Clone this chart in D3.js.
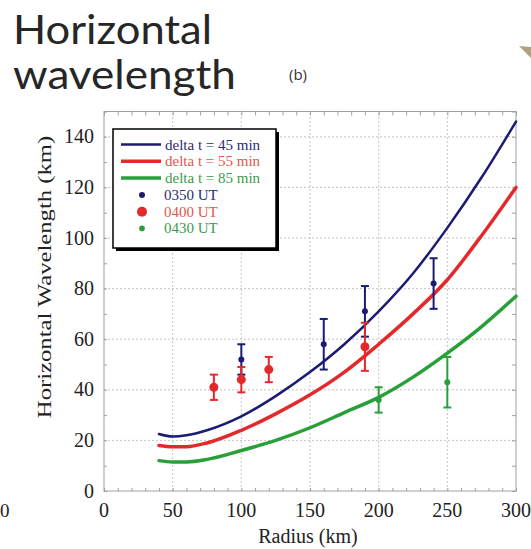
<!doctype html>
<html>
<head>
<meta charset="utf-8">
<script src="https://cdn.jsdelivr.net/npm/d3@7"></script>
<style>
	body { margin: 0; background: #fff; }
	svg text { font-family: "Liberation Serif", "Times New Roman", serif; }
</style>
</head>
<body>
<script>
// model curves, radius (km) vs horizontal wavelength (km)
var radius = [40, 50, 60, 75, 100, 125, 150, 175, 200, 225, 250, 275, 300]
var dt45 = [22.5, 21.5, 22, 24, 29.5, 37.5, 47, 58, 71, 86, 104, 124, 146]
var dt55 = [18, 17.5, 17.5, 19, 24, 30.5, 38, 47, 58, 70, 83.5, 101, 120]
var dt85 = [12, 11.5, 11.5, 12.5, 16, 20, 25, 31, 37, 45, 54.5, 65, 77]

// observations: radius, wavelength, error
var obsR0350 = [100, 160, 190, 240]
var obsV0350 = [52, 58, 71, 82]
var obsE0350 = [6, 10, 10, 10]
var obsR0400 = [80, 100, 120, 190]
var obsV0400 = [41, 44, 48, 57]
var obsE0400 = [5, 5, 5, 9.5]
var obsR0430 = [200, 250]
var obsV0430 = [36, 43]
var obsE0430 = [5, 10]

var xTicks = [0, 50, 100, 150, 200, 250, 300]
var yTicks = [0, 20, 40, 60, 80, 100, 120, 140]
var curveNames = ["delta t = 45 min", "delta t = 55 min", "delta t = 85 min"]
var obsNames = ["0350 UT", "0400 UT", "0430 UT"]

var width = 531
var height = 549
var blue = "#1b1b74", red = "#e4292b", green = "#27a03a"

var svg = d3.select("body").append("svg")
	.attr("width", width)
	.attr("height", height)

var x = d3.scaleLinear().domain([0, 300]).range([104, 516])
var y = d3.scaleLinear().domain([0, 150]).range([491, 111.5])

// slide title
svg.append("text").attr("x", 13).attr("y", 44)
	.style("font-family", "Lato, 'Open Sans', sans-serif")
	.attr("font-size", 40).attr("fill", "#262626")
	.attr("textLength", 199).attr("lengthAdjust", "spacingAndGlyphs")
	.text("Horizontal")
svg.append("text").attr("x", 13).attr("y", 89)
	.style("font-family", "Lato, 'Open Sans', sans-serif")
	.attr("font-size", 40).attr("fill", "#262626")
	.attr("textLength", 223).attr("lengthAdjust", "spacingAndGlyphs")
	.text("wavelength")
svg.append("text").attr("x", 298).attr("y", 80)
	.attr("text-anchor", "middle")
	.style("font-family", "'Open Sans', sans-serif")
	.attr("font-size", 15).attr("fill", "#333")
	.text("(b)")
// bit of decoration at top right
svg.append("polygon")
	.attr("points", "519,46 531,47 531,58")
	.attr("fill", "#ada383")
// stray zero from neighbouring panel
svg.append("text").attr("x", 0).attr("y", 517)
	.attr("font-size", 19).attr("fill", "#222").text("0")

// grid
var grid = svg.append("g")
grid.selectAll(".gx").data(xTicks.slice(1, -1)).enter().append("line")
	.attr("x1", function(d) { return x(d) }).attr("x2", function(d) { return x(d) })
	.attr("y1", y(0)).attr("y2", y(150))
	.attr("stroke", "#c4c4c4").attr("stroke-dasharray", "2,2")
grid.selectAll(".gy").data(yTicks.slice(1)).enter().append("line")
	.attr("x1", x(0)).attr("x2", x(300))
	.attr("y1", function(d) { return y(d) }).attr("y2", function(d) { return y(d) })
	.attr("stroke", "#c4c4c4").attr("stroke-dasharray", "2,2")

// frame with inward ticks on all sides
svg.append("rect")
	.attr("x", x(0)).attr("y", y(150))
	.attr("width", x(300) - x(0)).attr("height", y(0) - y(150))
	.attr("fill", "none").attr("stroke", "#a0a0a0")
var minorX = d3.range(0, 301, 10), minorY = d3.range(0, 151, 10)
svg.append("g").attr("transform", "translate(0," + y(150) + ")")
	.call(d3.axisTop(x).tickValues(minorX).tickSize(-4).tickFormat(""))
svg.append("g").attr("transform", "translate(" + x(300) + ",0)")
	.call(d3.axisRight(y).tickValues(minorY).tickSize(-4).tickFormat(""))
svg.append("g").attr("transform", "translate(0," + y(0) + ")")
	.call(d3.axisBottom(x).tickValues(minorX).tickSize(-3).tickFormat(""))
svg.append("g").attr("transform", "translate(" + x(0) + ",0)")
	.call(d3.axisLeft(y).tickValues(minorY).tickSize(-3).tickFormat(""))
svg.selectAll(".domain").remove()
svg.selectAll(".tick line").attr("stroke", "#a0a0a0")

// tick labels
svg.selectAll(".xl").data(xTicks).enter().append("text")
	.attr("x", function(d) { return x(d) }).attr("y", 517)
	.attr("text-anchor", "middle").attr("font-size", 20).attr("fill", "#222")
	.text(function(d) { return d })
svg.selectAll(".yl").data(yTicks).enter().append("text")
	.attr("x", 94).attr("y", function(d) { return y(d) + 6.5 })
	.attr("text-anchor", "end").attr("font-size", 20).attr("fill", "#222")
	.text(function(d) { return d })

svg.append("text").attr("x", 308).attr("y", 543)
	.attr("text-anchor", "middle").attr("font-size", 20).attr("fill", "#222")
	.text("Radius (km)")
// the source figure is stretched vertically, so stretch the label along its length
svg.append("text")
	.attr("transform", "translate(51,277) rotate(-90) scale(1.37,1)")
	.attr("text-anchor", "middle").attr("font-size", 18).attr("fill", "#222")
	.text("Horizontal Wavelength (km)")

// model curves
var line = d3.line()
	.x(function(d) { return x(d[0]) })
	.y(function(d) { return y(d[1]) })
	.curve(d3.curveMonotoneX)
var curves = [[dt45, blue, 2.5], [dt55, red, 3.5], [dt85, green, 3.5]]
curves.forEach(function(c) {
	svg.append("path")
		.datum(d3.zip(radius, c[0]))
		.attr("d", line)
		.attr("fill", "none").attr("stroke", c[1]).attr("stroke-width", c[2])
		.attr("stroke-linecap", "round")
})

// observations with error bars
function obs(rs, vs, es, color, size) {
	var g = svg.append("g")
	var data = d3.zip(rs, vs, es)
	var bars = g.selectAll("g").data(data).enter().append("g")
		.attr("stroke", color).attr("stroke-width", 2)
	bars.append("line")
		.attr("x1", function(d) { return x(d[0]) }).attr("x2", function(d) { return x(d[0]) })
		.attr("y1", function(d) { return y(d[1] - d[2]) }).attr("y2", function(d) { return y(d[1] + d[2]) })
	bars.append("line")
		.attr("x1", function(d) { return x(d[0]) - 4 }).attr("x2", function(d) { return x(d[0]) + 4 })
		.attr("y1", function(d) { return y(d[1] + d[2]) }).attr("y2", function(d) { return y(d[1] + d[2]) })
	bars.append("line")
		.attr("x1", function(d) { return x(d[0]) - 4 }).attr("x2", function(d) { return x(d[0]) + 4 })
		.attr("y1", function(d) { return y(d[1] - d[2]) }).attr("y2", function(d) { return y(d[1] - d[2]) })
	g.selectAll("circle").data(data).enter().append("circle")
		.attr("cx", function(d) { return x(d[0]) })
		.attr("cy", function(d) { return y(d[1]) })
		.attr("r", size).attr("fill", color)
}
obs(obsR0350, obsV0350, obsE0350, blue, 3)
obs(obsR0400, obsV0400, obsE0400, red, 4.5)
obs(obsR0430, obsV0430, obsE0430, green, 3)

// legend
var lg = svg.append("g").attr("transform", "translate(113,129)")
lg.append("rect").attr("x", 3).attr("y", 3).attr("width", 163).attr("height", 119).attr("fill", "#000")
lg.append("rect").attr("width", 163).attr("height", 119)
	.attr("fill", "#fff").attr("stroke", "#000").attr("stroke-width", 1.5)
var lineCols = [blue, red, green]
var textCols = ["#2c2c72", "#df5848", "#3e9a4c"]
var lineW = [2.5, 3.5, 3.5]
var dotR = [3, 5, 2.8]
curveNames.forEach(function(n, i) {
	lg.append("line").attr("x1", 8).attr("x2", 48)
		.attr("y1", 15.5 + i * 16.7).attr("y2", 15.5 + i * 16.7)
		.attr("stroke", lineCols[i]).attr("stroke-width", lineW[i])
	lg.append("text").attr("x", 52).attr("y", 20.5 + i * 16.7)
		.attr("font-size", 15).attr("fill", textCols[i]).text(n)
})
obsNames.forEach(function(n, i) {
	lg.append("circle").attr("cx", 29).attr("cy", 66 + i * 16.7)
		.attr("r", dotR[i]).attr("fill", lineCols[i])
	lg.append("text").attr("x", 51).attr("y", 71 + i * 16.7)
		.attr("font-size", 15).attr("fill", textCols[i]).text(n)
})
</script>
</body>
</html>
